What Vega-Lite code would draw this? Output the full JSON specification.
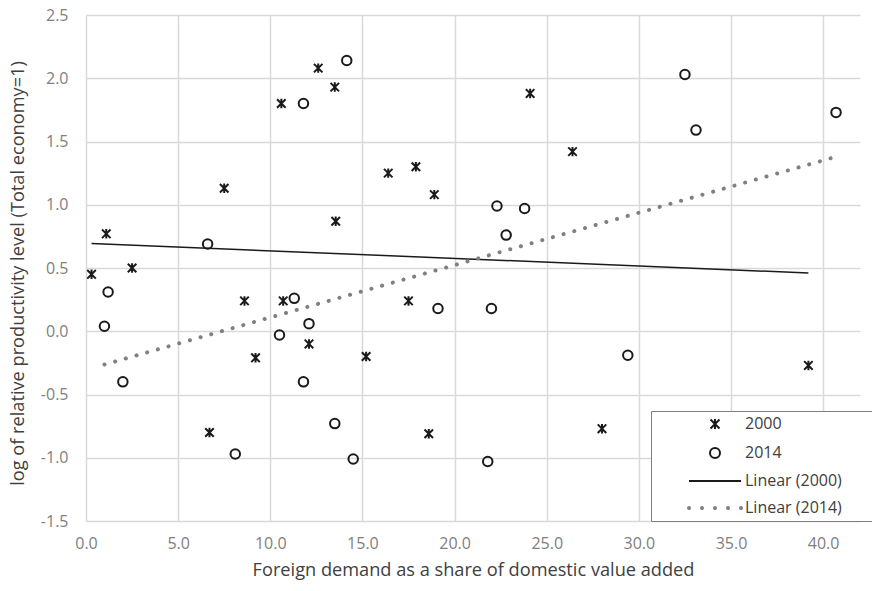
{
  "$schema": "https://vega.github.io/schema/vega-lite/v6.json",
  "width": 774,
  "height": 506,
  "autosize": {"type": "none"},
  "padding": {"left": 86, "top": 15, "right": 12, "bottom": 70},
  "background": "white",
  "config": {
    "view": {"stroke": null},
    "font": "Open Sans",
    "axis": {
      "domain": false,
      "ticks": false,
      "grid": true,
      "gridColor": "#d9d9d9",
      "gridWidth": 1.5,
      "labelFlush": false,
      "labelColor": "#808080",
      "labelFont": "Open Sans",
      "labelFontSize": 16,
      "titleFont": "Open Sans",
      "titleFontSize": 18.2,
      "titleFontWeight": "normal",
      "titleColor": "#404040"
    }
  },
  "data": {
    "values": [
      {"series": "2000", "x": 0.3, "y": 0.45},
      {"series": "2000", "x": 1.1, "y": 0.77},
      {"series": "2000", "x": 2.5, "y": 0.50},
      {"series": "2000", "x": 7.5, "y": 1.13},
      {"series": "2000", "x": 10.6, "y": 1.80},
      {"series": "2000", "x": 12.6, "y": 2.08},
      {"series": "2000", "x": 13.5, "y": 1.93},
      {"series": "2000", "x": 13.55, "y": 0.87},
      {"series": "2000", "x": 16.4, "y": 1.25},
      {"series": "2000", "x": 17.9, "y": 1.30},
      {"series": "2000", "x": 18.9, "y": 1.08},
      {"series": "2000", "x": 24.1, "y": 1.88},
      {"series": "2000", "x": 26.4, "y": 1.42},
      {"series": "2000", "x": 8.6, "y": 0.24},
      {"series": "2000", "x": 10.7, "y": 0.24},
      {"series": "2000", "x": 9.2, "y": -0.21},
      {"series": "2000", "x": 12.1, "y": -0.10},
      {"series": "2000", "x": 6.7, "y": -0.80},
      {"series": "2000", "x": 17.5, "y": 0.24},
      {"series": "2000", "x": 15.2, "y": -0.20},
      {"series": "2000", "x": 18.6, "y": -0.81},
      {"series": "2000", "x": 28.0, "y": -0.77},
      {"series": "2000", "x": 39.2, "y": -0.27},
      {"series": "2014", "x": 14.15, "y": 2.14},
      {"series": "2014", "x": 11.8, "y": 1.80},
      {"series": "2014", "x": 6.6, "y": 0.69},
      {"series": "2014", "x": 22.3, "y": 0.99},
      {"series": "2014", "x": 23.8, "y": 0.97},
      {"series": "2014", "x": 22.8, "y": 0.76},
      {"series": "2014", "x": 32.5, "y": 2.03},
      {"series": "2014", "x": 33.1, "y": 1.59},
      {"series": "2014", "x": 40.7, "y": 1.73},
      {"series": "2014", "x": 1.2, "y": 0.31},
      {"series": "2014", "x": 1.0, "y": 0.04},
      {"series": "2014", "x": 2.0, "y": -0.40},
      {"series": "2014", "x": 11.3, "y": 0.26},
      {"series": "2014", "x": 12.1, "y": 0.06},
      {"series": "2014", "x": 10.5, "y": -0.03},
      {"series": "2014", "x": 11.8, "y": -0.40},
      {"series": "2014", "x": 8.1, "y": -0.97},
      {"series": "2014", "x": 13.5, "y": -0.73},
      {"series": "2014", "x": 14.5, "y": -1.01},
      {"series": "2014", "x": 19.1, "y": 0.18},
      {"series": "2014", "x": 22.0, "y": 0.18},
      {"series": "2014", "x": 29.4, "y": -0.19},
      {"series": "2014", "x": 21.8, "y": -1.03}
    ]
  },
  "encoding": {
    "x": {
      "field": "x",
      "type": "quantitative",
      "scale": {"domain": [0, 42], "nice": false, "zero": false},
      "axis": {
        "values": [0, 5, 10, 15, 20, 25, 30, 35, 40],
        "format": ".1f",
        "labelPadding": 14,
        "title": "Foreign demand as a share of domestic value added",
        "titleY": 49,
        "titleBaseline": "middle"
      }
    },
    "y": {
      "field": "y",
      "type": "quantitative",
      "scale": {"domain": [-1.5, 2.5], "nice": false, "zero": false},
      "axis": {
        "values": [-1.5, -1, -0.5, 0, 0.5, 1, 1.5, 2, 2.5],
        "labelExpr": "replace(format(datum.value, '.1f'), '\u2212', '-')",
        "labelPadding": 18,
        "title": "log of relative productivity level (Total economy=1)",
        "titleX": -68,
        "titleY": 258,
        "titleAngle": -90,
        "titleBaseline": "middle"
      }
    }
  },
  "layer": [
    {
      "transform": [
        {"filter": "datum.series === '2000'"},
        {"regression": "y", "on": "x"}
      ],
      "mark": {"type": "line", "color": "#1a1a1a", "strokeWidth": 1.5}
    },
    {
      "transform": [
        {"filter": "datum.series === '2014'"},
        {"regression": "y", "on": "x"}
      ],
      "mark": {"type": "line", "color": "#808080", "strokeWidth": 4, "strokeDash": [0.1, 11], "strokeCap": "round"}
    },
    {
      "mark": {"type": "point", "filled": false, "strokeWidth": 2, "size": 90, "opacity": 1},
      "encoding": {
        "stroke": {
          "field": "series",
          "type": "nominal",
          "scale": {
            "domain": ["2000", "2014", "Linear (2000)", "Linear (2014)"],
            "range": ["#1a1a1a", "#1a1a1a", "#1a1a1a", "#808080"]
          }
        },
        "shape": {
          "field": "series",
          "type": "nominal",
          "scale": {
            "domain": ["2000", "2014", "Linear (2000)", "Linear (2014)"],
            "range": [
              "M-0.9,-0.9L0.9,0.9M0.9,-0.9L-0.9,0.9M0,-1L0,1",
              "circle",
              "M-5.2,0L5.2,0",
              "M-5,0A0.2,0.2 0 1,1 -5.4,0A0.2,0.2 0 1,1 -5,0Z M-2.4,0A0.2,0.2 0 1,1 -2.8,0A0.2,0.2 0 1,1 -2.4,0Z M0.2,0A0.2,0.2 0 1,1 -0.2,0A0.2,0.2 0 1,1 0.2,0Z M2.8,0A0.2,0.2 0 1,1 2.4,0A0.2,0.2 0 1,1 2.8,0Z M5.4,0A0.2,0.2 0 1,1 5,0A0.2,0.2 0 1,1 5.4,0Z"
            ]
          },
          "legend": {
            "title": null,
            "orient": "none",
            "legendX": 565,
            "legendY": 396,
            "padding": 5,
            "strokeColor": "#7f7f7f",
            "fillColor": "white",
            "symbolSize": 100,
            "symbolStrokeWidth": 2,
            "symbolOffset": 51,
            "labelOffset": 22,
            "rowPadding": 11,
            "labelFont": "Open Sans",
            "labelFontSize": 16,
            "labelColor": "#404040",
            "labelExpr": "datum.label + '\u00a0\u00a0\u00a0\u00a0\u00a0\u00a0\u00a0\u200b'"
          }
        }
      }
    }
  ]
}
